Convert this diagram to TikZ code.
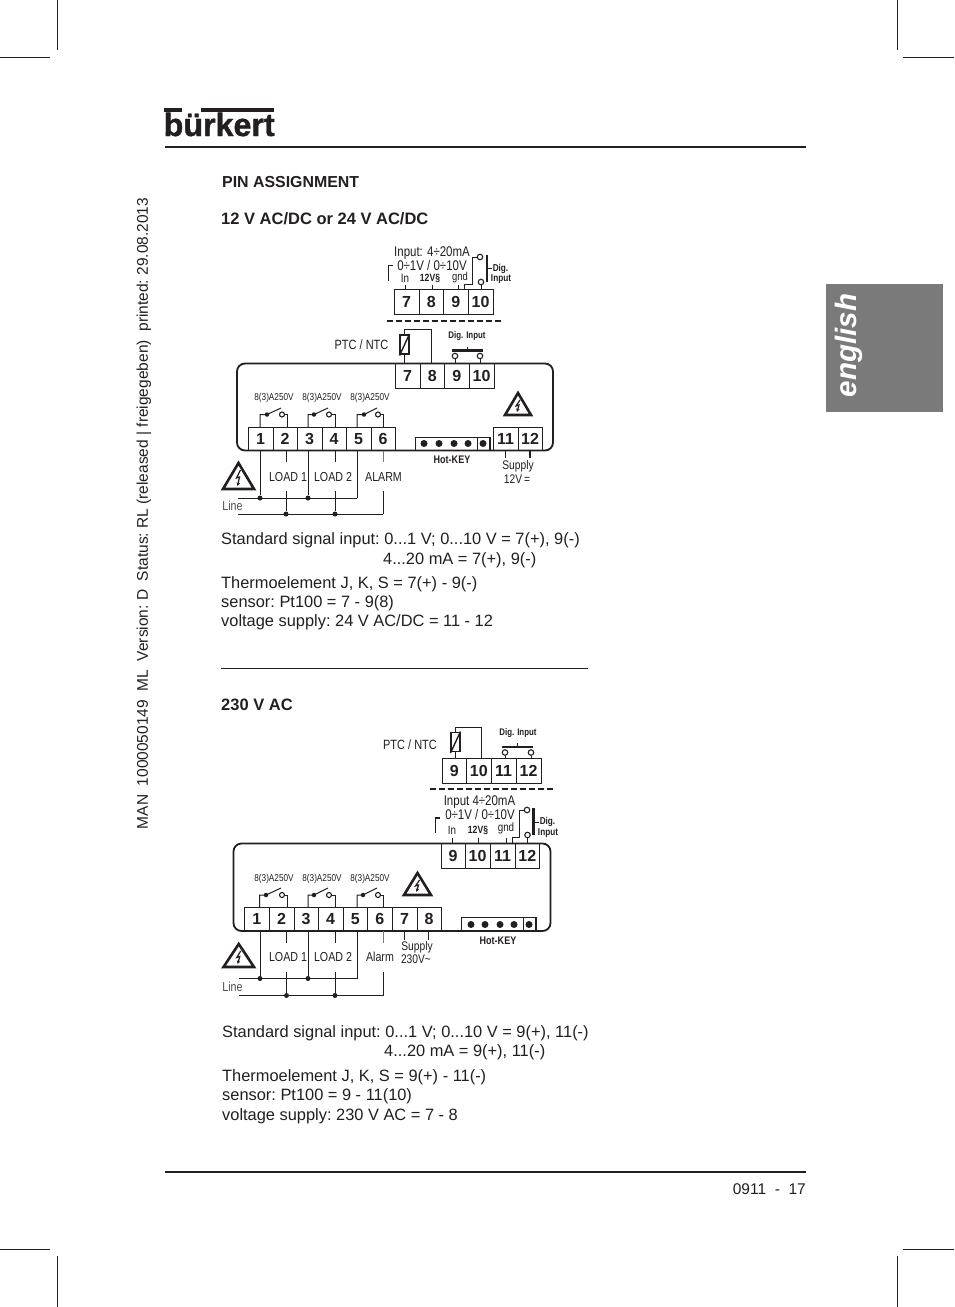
\documentclass[tikz,border=0pt]{standalone}
\usepackage{fontspec}
\usepackage{graphicx}
\setmainfont{Liberation Sans}
\newfontfamily\narrowf[FakeStretch=0.82]{Liberation Sans}
\newfontfamily\logof[FakeBold=1.2]{Liberation Sans Bold}
\newcommand{\fs}[1]{\fontsize{#1}{#1}\selectfont}
\definecolor{ink}{HTML}{231F20}
\definecolor{tabgray}{HTML}{7B7A7A}
\usetikzlibrary{arrows.meta}
\tikzset{
  x=1pt,y=-1pt,
  body/.style={anchor=base west,inner sep=0pt,text=ink,font=\frenchspacing\fs{16.4}},
  head/.style={anchor=base west,inner sep=0pt,text=ink,font=\frenchspacing\fs{16.5}\bfseries},
  small/.style={inner sep=0pt,text=ink,font=\narrowf\fs{14}},
  tiny/.style={inner sep=0pt,text=ink,font=\narrowf\fs{10}},
  micro/.style={inner sep=0pt,text=ink,font=\narrowf\bfseries\fs{10.5}},
  term/.style={draw=ink,line width=1pt,inner sep=0pt,minimum height=#1,text=ink,font=\bfseries\fs{16}},
  wire/.style={draw=ink,line width=1pt},
  faint/.style={draw=ink!60,line width=1pt},
  rule/.style={draw=ink,line width=2pt},
  crop/.style={draw=ink,line width=0.5pt},
  pinc/.style={circle,draw=ink,line width=1.1pt,fill=white,inner sep=0pt,minimum size=5.5pt},
  pdot/.style={circle,fill=ink,inner sep=0pt,minimum size=5pt},
  hdot/.style={circle,fill=ink,inner sep=0pt,minimum size=7pt},
}
% warning triangle: left, right, top, bottom
\newcommand{\warn}[4]{%
  \draw[ink,line width=2.6pt,line join=miter] ({(#1+#2)/2},#3) -- (#2,#4) -- (#1,#4) -- cycle;
  \draw[ink,line width=1.2pt,-{Stealth[length=3.5pt,width=3.5pt]}] ({(#1+#2)/2+2},{#3+7}) -- ({(#1+#2)/2-2},{(#3+#4)/2+2}) -- ({(#1+#2)/2+1},{(#3+#4)/2+1}) -- ({(#1+#2)/2-1},{#4-3});
}
% switch: name, x start, x dot, x circle, x end, y of contacts, y of terminal, blade tip y
\newcommand{\relay}[8]{%
  \coordinate (#1a) at (#2,#7);
  \node[pdot,minimum size=4.5pt] (#1d) at (#3,#6) {};
  \node[pinc,minimum size=5pt] (#1c) at (#4,#6) {};
  \coordinate (#1b) at (#5,#7);
  \coordinate (#1t) at ({#4-1},#8);
  \draw[wire] (#1a) |- (#1d.center) -- (#1t);
  \draw[wire] (#1c.east) -| (#1b);
}
\begin{document}
\begin{tikzpicture}
\useasboundingbox (0,0) rectangle (954,1307);
\fill[white] (0,0) rectangle (954,1307);
% crop marks
\coordinate (c1a) at (57,0); \coordinate (c1b) at (57,50);
\coordinate (c2a) at (0,57); \coordinate (c2b) at (50,57);
\coordinate (c3a) at (897,0); \coordinate (c3b) at (897,50);
\coordinate (c4a) at (903,57); \coordinate (c4b) at (954,57);
\coordinate (c5a) at (57,1256); \coordinate (c5b) at (57,1307);
\coordinate (c6a) at (0,1249); \coordinate (c6b) at (50,1249);
\coordinate (c7a) at (897,1256); \coordinate (c7b) at (897,1307);
\coordinate (c8a) at (903,1249); \coordinate (c8b) at (954,1249);
\foreach \i in {1,...,8} \draw[crop] (c\i a) -- (c\i b);
% logo
\fill[ink] (164,107.5) rectangle (182,111.5);
\fill[ink] (201,107.5) rectangle (274,111.5);
\node[inner sep=0pt,anchor=base west,text=ink] (logo) at (163.5,136) {\resizebox{111pt}{!}{\logof\fs{31}bürkert}};
% rules
\coordinate (r1a) at (165,147); \coordinate (r1b) at (806,147);
\draw[rule] (r1a) -- (r1b);
\coordinate (r2a) at (165,1172); \coordinate (r2b) at (806,1172);
\draw[rule] (r2a) -- (r2b);
\coordinate (r3a) at (221,668.5); \coordinate (r3b) at (588,668.5);
\draw[draw=ink,line width=0.8pt] (r3a) -- (r3b);
\node[anchor=base east,inner sep=0pt,text=ink,font=\fs{15.5}] (pageno) at (806,1194) {0911\ \ -\ \ 17};
% tab
\fill[tabgray] (826,284) rectangle (943,412);
\node[rotate=90,inner sep=0pt,text=white,font=\fs{29.5}\bfseries\itshape] (eng) at (849,345.5) {english};
% side text
\node[rotate=90,inner sep=0pt,text=ink,font=\frenchspacing\fs{15.5}] (side) at (144,513.5) {MAN\ \ 1000050149\ \ ML\ \ Version: D\ \ Status: RL (released | freigegeben)\ \ printed: 29.08.2013};
% headings and paragraphs
\node[head,font=\frenchspacing\fs{15.9}\bfseries] (h1) at (222,187) {PIN ASSIGNMENT};
\node[head] (h2) at (221,224) {12 V AC/DC or 24 V AC/DC};
\node[head] (h3) at (221,710) {230 V AC};
\node[body] (p1) at (221,544) {Standard signal input: 0...1 V; 0...10 V = 7(+), 9(-)};
\node[body] (p2) at (383,564) {4...20 mA = 7(+), 9(-)};
\node[body] (p3) at (221,588) {Thermoelement J, K, S = 7(+) - 9(-)};
\node[body] (p4) at (221,607) {sensor: Pt100 = 7 - 9(8)};
\node[body] (p5) at (221,626) {voltage supply: 24 V AC/DC = 11 - 12};
\node[body] (q1) at (222,1037) {Standard signal input: 0...1 V; 0...10 V = 9(+), 11(-)};
\node[body] (q2) at (384,1056) {4...20 mA = 9(+), 11(-)};
\node[body] (q3) at (222,1081) {Thermoelement J, K, S = 9(+) - 11(-)};
\node[body] (q4) at (222,1100) {sensor: Pt100 = 9 - 11(10)};
\node[body] (q5) at (222,1120) {voltage supply: 230 V AC = 7 - 8};

%%%%%%%%%%%%%%% DIAGRAM 1 %%%%%%%%%%%%%%%
% top terminals
\foreach \n/\a/\b in {7/394/419,8/419/443.5,9/443.5/468,10/468/493}
  \node[term=25pt,minimum width={(\b-\a)*1pt}] (ta\n) at ({(\a+\b)/2},301.5) {\n};
\node[small] (ta_l1) at (432,253) {Input: 4÷20mA};
\node[small] (ta_l2) at (432,265) {0÷1V / 0÷10V};
\node[tiny,font=\narrowf\fs{12}] (ta_in) at (405,278.5) {In};
\node[micro] (ta_12) at (430,278.5) {12V§};
\node[tiny,font=\narrowf\fs{11.5}] (ta_gnd) at (460,278) {gnd};
\draw[wire,line width=1.5pt] (393,265.5) -- (388.5,265.5) -- (388.5,281);
\draw[wire] (ta7.north) ++(-1.5,0) -- ++(0,-3.5);
\draw[wire] (ta8.north) ++(1,0) -- ++(0,-3.5);
\draw[wire] (ta9.north) ++(3,0) -- ++(0,-3.5);
\node[pinc] (ta_c1) at (480,257) {};
\node[pinc] (ta_c2) at (481,282) {};
\coordinate (ta_s) at (464,289);
\draw[wire] (ta_s) |- (472,284) |- (ta_c1.west);
\draw[wire] (ta_c2) -- (ta_c2 |- ta10.north);
\coordinate (ta_b1) at (487,255); \coordinate (ta_b2) at (487,282);
\draw[draw=ink,line width=2.8pt] (ta_b1) -- (ta_b2);
\draw[wire] (487,268) -- (492,268);
\node[micro,font=\narrowf\bfseries\fs{10}] (ta_d1) at (500.5,268.5) {Dig.};
\node[micro,font=\narrowf\bfseries\fs{10}] (ta_d2) at (501,279.5) {Input};
\coordinate (da1) at (387,321); \coordinate (da2) at (503,321);
\draw[wire,line width=1.2pt,dash pattern=on 5.5pt off 3.5pt] (da1) -- (da2);
% main box 1
\coordinate (m1a) at (237,363.5); \coordinate (m1b) at (553,450.5);
\draw[draw=ink,line width=1.8pt,rounded corners=8pt] (m1a) rectangle (m1b);
% PTC
\node[small,font=\narrowf\fs{13.4}] (ptc1) at (361.5,344.5) {PTC / NTC};
\node[draw=ink,line width=1.3pt,minimum width=9pt,minimum height=19pt,inner sep=0pt] (r1) at (404.5,344.5) {};
\draw[wire,line width=1.4pt] (399.5,355.5) -- (409.5,334);
\foreach \n/\a/\b in {7/395/420,8/420/444.5,9/444.5/469,10/469/494}
  \node[term=25pt,minimum width={(\b-\a)*1pt}] (tb\n) at ({(\a+\b)/2},376) {\n};
\draw[wire] (r1.south) -- (r1.south |- tb7.north);
\draw[wire] (r1.north) |- (431,329) -- (431,363.5);
\node[micro,font=\narrowf\bfseries\fs{9.6}] (db1) at (467,336) {Dig. Input};
\node[pinc] (db_c1) at (455,356) {};
\node[pinc] (db_c2) at (480,356) {};
\coordinate (db_a) at (452,350.5); \coordinate (db_b) at (483,350.5);
\draw[draw=ink,line width=2.2pt] (db_a) -- (db_b);
\draw[wire] (467,350) -- (467,346.5);
\draw[wire] (db_c1) -- (db_c1 |- tb9.north);
\draw[wire] (db_c2) -- (db_c2 |- tb10.north);
% terminals 1-6, 11-12
\foreach \n/\a/\b in {1/248/273,2/273/297,3/297/322,4/322/346,5/346/371,6/371/395,11/493/518,12/518/542}
  \node[term=23.5pt,minimum width={(\b-\a)*1pt}] (ca\n) at ({(\a+\b)/2},438.75) {\n};
\foreach \x in {274,322,370} \node[tiny] at (\x,398) {8(3)A250V};
\relay{sa}{260}{267}{282}{287}{414.5}{427}{408}
\relay{sb}{308}{314}{329}{335}{414.5}{427}{408}
\relay{sc}{357}{364}{378}{383}{414.5}{427}{408}
\warn{505}{531}{393}{415}
% hot key
\coordinate (ha) at (415.5,450); \coordinate (hb) at (490,450);
\draw[wire,line width=1.5pt] (ha) |- (490,437.5) -- (hb);
\draw[wire] (477.5,437.5) -- (477.5,450);
\foreach \x in {424,439,454,468,483} \node[hdot] at (\x,443.5) {};
\node[micro,font=\narrowf\bfseries\fs{11}] (hk1) at (452,460) {Hot-KEY};
\node[tiny,font=\narrowf\fs{12.5}] (sup1) at (518,466) {Supply};
\node[tiny,font=\narrowf\fs{12.5}] (sup2) at (517,479) {12V\,=};
\draw[wire] (505.5,450) -- (505.5,458);
\draw[wire,line width=1.4pt] (530,450) -- (530,458);
% wires
\coordinate (la) at (238,498); \coordinate (lb) at (357,498);
\coordinate (na) at (238,514); \coordinate (nb) at (383,514);
\draw[wire] (la) -- (lb);
\draw[wire] (na) -- (nb);
\node[pdot] (j1) at (260,498) {};
\node[pdot] (j2) at (308,498) {};
\node[pdot] (j3) at (286,514) {};
\node[pdot] (j4) at (335,514) {};
\coordinate (top1) at (260,450.5); \coordinate (top3) at (308,450.5); \coordinate (top5) at (357,450.5);
\draw[wire] (top1) -- (j1); \draw[wire] (top3) -- (j2); \draw[wire] (top5) -- (lb);
\foreach \x/\j in {286/j3,335/j4} {
  \draw[wire] (\x,450.5) -- (\x,462);
  \draw[wire] (\x,491) -- (\j);
}
\draw[faint] (383,450.5) -- (383,462);
\draw[wire] (383,491) -- (nb);
\node[small,font=\narrowf\fs{13}] (l1) at (288,477) {LOAD 1};
\node[small,font=\narrowf\fs{13}] (l2) at (333,477) {LOAD 2};
\node[small,font=\narrowf\fs{13}] (l3) at (383.5,477) {ALARM};
\node[small,font=\narrowf\fs{13},text=ink!80] (line1) at (232.5,506) {Line};
\warn{223}{254}{463}{489}

%%%%%%%%%%%%%%% DIAGRAM 2 %%%%%%%%%%%%%%%
\foreach \n/\a/\b in {9/442/466.5,10/466.5/491,11/491/516,12/516/541}
  \node[term=25pt,minimum width={(\b-\a)*1pt}] (td\n) at ({(\a+\b)/2},771) {\n};
\node[small,font=\narrowf\fs{13.4}] (ptc2) at (410,744.5) {PTC / NTC};
\node[draw=ink,line width=1.3pt,minimum width=9pt,minimum height=19pt,inner sep=0pt] (r2) at (455.5,742) {};
\draw[wire,line width=1.4pt] (450.5,753) -- (460.5,731.5);
\draw[wire] (r2.south) -- (r2.south |- td9.north);
\draw[wire] (r2.north) |- (481,727) -- (481,758.5);
\node[micro,font=\narrowf\bfseries\fs{9.6}] (dd1) at (518,733) {Dig. Input};
\node[pinc] (dd_c1) at (505,752.5) {};
\node[pinc] (dd_c2) at (531,752.5) {};
\coordinate (dd_a) at (502,747); \coordinate (dd_b) at (533,747);
\draw[draw=ink,line width=2.2pt] (dd_a) -- (dd_b);
\draw[wire] (517.5,746.5) -- (517.5,743);
\draw[wire] (dd_c1) -- (dd_c1 |- td11.north);
\draw[wire] (dd_c2) -- (dd_c2 |- td12.north);
\coordinate (de1) at (430,789); \coordinate (de2) at (554,789);
\draw[wire,line width=1.2pt,dash pattern=on 5.5pt off 3.5pt] (de1) -- (de2);
\coordinate (m2a) at (233.5,843.5); \coordinate (m2b) at (550.5,931);
\draw[draw=ink,line width=1.8pt,rounded corners=8pt] (m2a) rectangle (m2b);
\foreach \n/\a/\b in {9/441/465,10/465/490,11/490/515,12/515/539.5}
  \node[term=25pt,minimum width={(\b-\a)*1pt}] (te\n) at ({(\a+\b)/2},856) {\n};
\node[small] (te_l1) at (479.5,802) {Input 4÷20mA};
\node[small] (te_l2) at (480,814.5) {0÷1V / 0÷10V};
\node[tiny,font=\narrowf\fs{12}] (te_in) at (452,830.5) {In};
\node[micro] (te_12) at (478,830.5) {12V§};
\node[tiny,font=\narrowf\fs{12}] (te_gnd) at (506,828.5) {gnd};
\draw[wire,line width=1.5pt] (439.5,818) -- (435.5,818) -- (435.5,833);
\draw[wire] (452,843.5) -- (452,837.5);
\draw[wire] (478,843.5) -- (478,837.5);
\draw[wire] (506,843.5) -- (506,837.5);
\node[pinc] (te_c1) at (527,810) {};
\node[pinc] (te_c2) at (527.5,835) {};
\coordinate (te_s) at (512,843);
\draw[wire] (te_s) |- (519,837) |- (te_c1.west);
\draw[wire] (te_c2) -- (te_c2 |- te12.north);
\coordinate (te_b1) at (533.5,808); \coordinate (te_b2) at (533.5,835);
\draw[draw=ink,line width=2.8pt] (te_b1) -- (te_b2);
\draw[wire] (533.5,822) -- (538.5,822);
\node[micro,font=\narrowf\bfseries\fs{10}] (te_d1) at (547.5,822) {Dig.};
\node[micro,font=\narrowf\bfseries\fs{10}] (te_d2) at (548,833) {Input};
\foreach \n/\a/\b in {1/244.5/269,2/269/294,3/294/318,4/318/343,5/343/367.5,6/367.5/392,7/392/417,8/417/441}
  \node[term=24pt,minimum width={(\b-\a)*1pt}] (cd\n) at ({(\a+\b)/2},919) {\n};
\foreach \x in {274,322,370} \node[tiny] at (\x,878.5) {8(3)A250V};
\relay{sd}{259.5}{266}{282}{287}{895}{907}{888}
\relay{se}{308}{314}{329}{335}{895}{907}{888}
\relay{sf}{357}{363}{378}{383}{895}{907}{888}
\warn{404}{431}{873}{895}
\coordinate (ia) at (461.5,931); \coordinate (ib) at (536,931);
\draw[wire,line width=1.5pt] (ia) |- (536,917.5) -- (ib);
\draw[wire] (523.5,917.5) -- (523.5,931);
\foreach \x in {471,485,500,514,529} \node[hdot] at (\x,924.5) {};
\node[micro,font=\narrowf\bfseries\fs{11}] (hk2) at (498,941) {Hot-KEY};
\node[tiny,font=\narrowf\fs{12.5}] (sup3) at (417,947) {Supply};
\node[tiny,font=\narrowf\fs{12.5}] (sup4) at (416,959.5) {230V\textasciitilde};
\draw[wire] (404,931) -- (404,940);
\draw[wire] (428,931) -- (428,940);
\coordinate (ma) at (239,978.5); \coordinate (mb) at (357,978.5);
\coordinate (oa) at (239,995.5); \coordinate (ob) at (383,995.5);
\draw[wire] (ma) -- (mb);
\draw[wire] (oa) -- (ob);
\node[pdot] (k1) at (260,978.5) {};
\node[pdot] (k2) at (308,978.5) {};
\node[pdot] (k3) at (286.5,995.5) {};
\node[pdot] (k4) at (335,995.5) {};
\coordinate (up1) at (260,931); \coordinate (up3) at (308,931); \coordinate (up5) at (357,931);
\draw[wire] (up1) -- (k1); \draw[wire] (up3) -- (k2); \draw[wire] (up5) -- (mb);
\foreach \x/\j in {286.5/k3,335/k4} {
  \draw[wire] (\x,931) -- (\x,943);
  \draw[wire] (\x,972) -- (\j);
}
\draw[faint] (383,931) -- (383,943);
\draw[wire] (383,972) -- (ob);
\node[small,font=\narrowf\fs{13}] (l4) at (288,957.5) {LOAD 1};
\node[small,font=\narrowf\fs{13}] (l5) at (333,957) {LOAD 2};
\node[small,font=\narrowf\fs{13}] (l6) at (380,957) {Alarm};
\node[small,font=\narrowf\fs{13},text=ink!80] (line2) at (232.5,987) {Line};
\warn{223.5}{254}{944}{967}
\end{tikzpicture}
\end{document}
